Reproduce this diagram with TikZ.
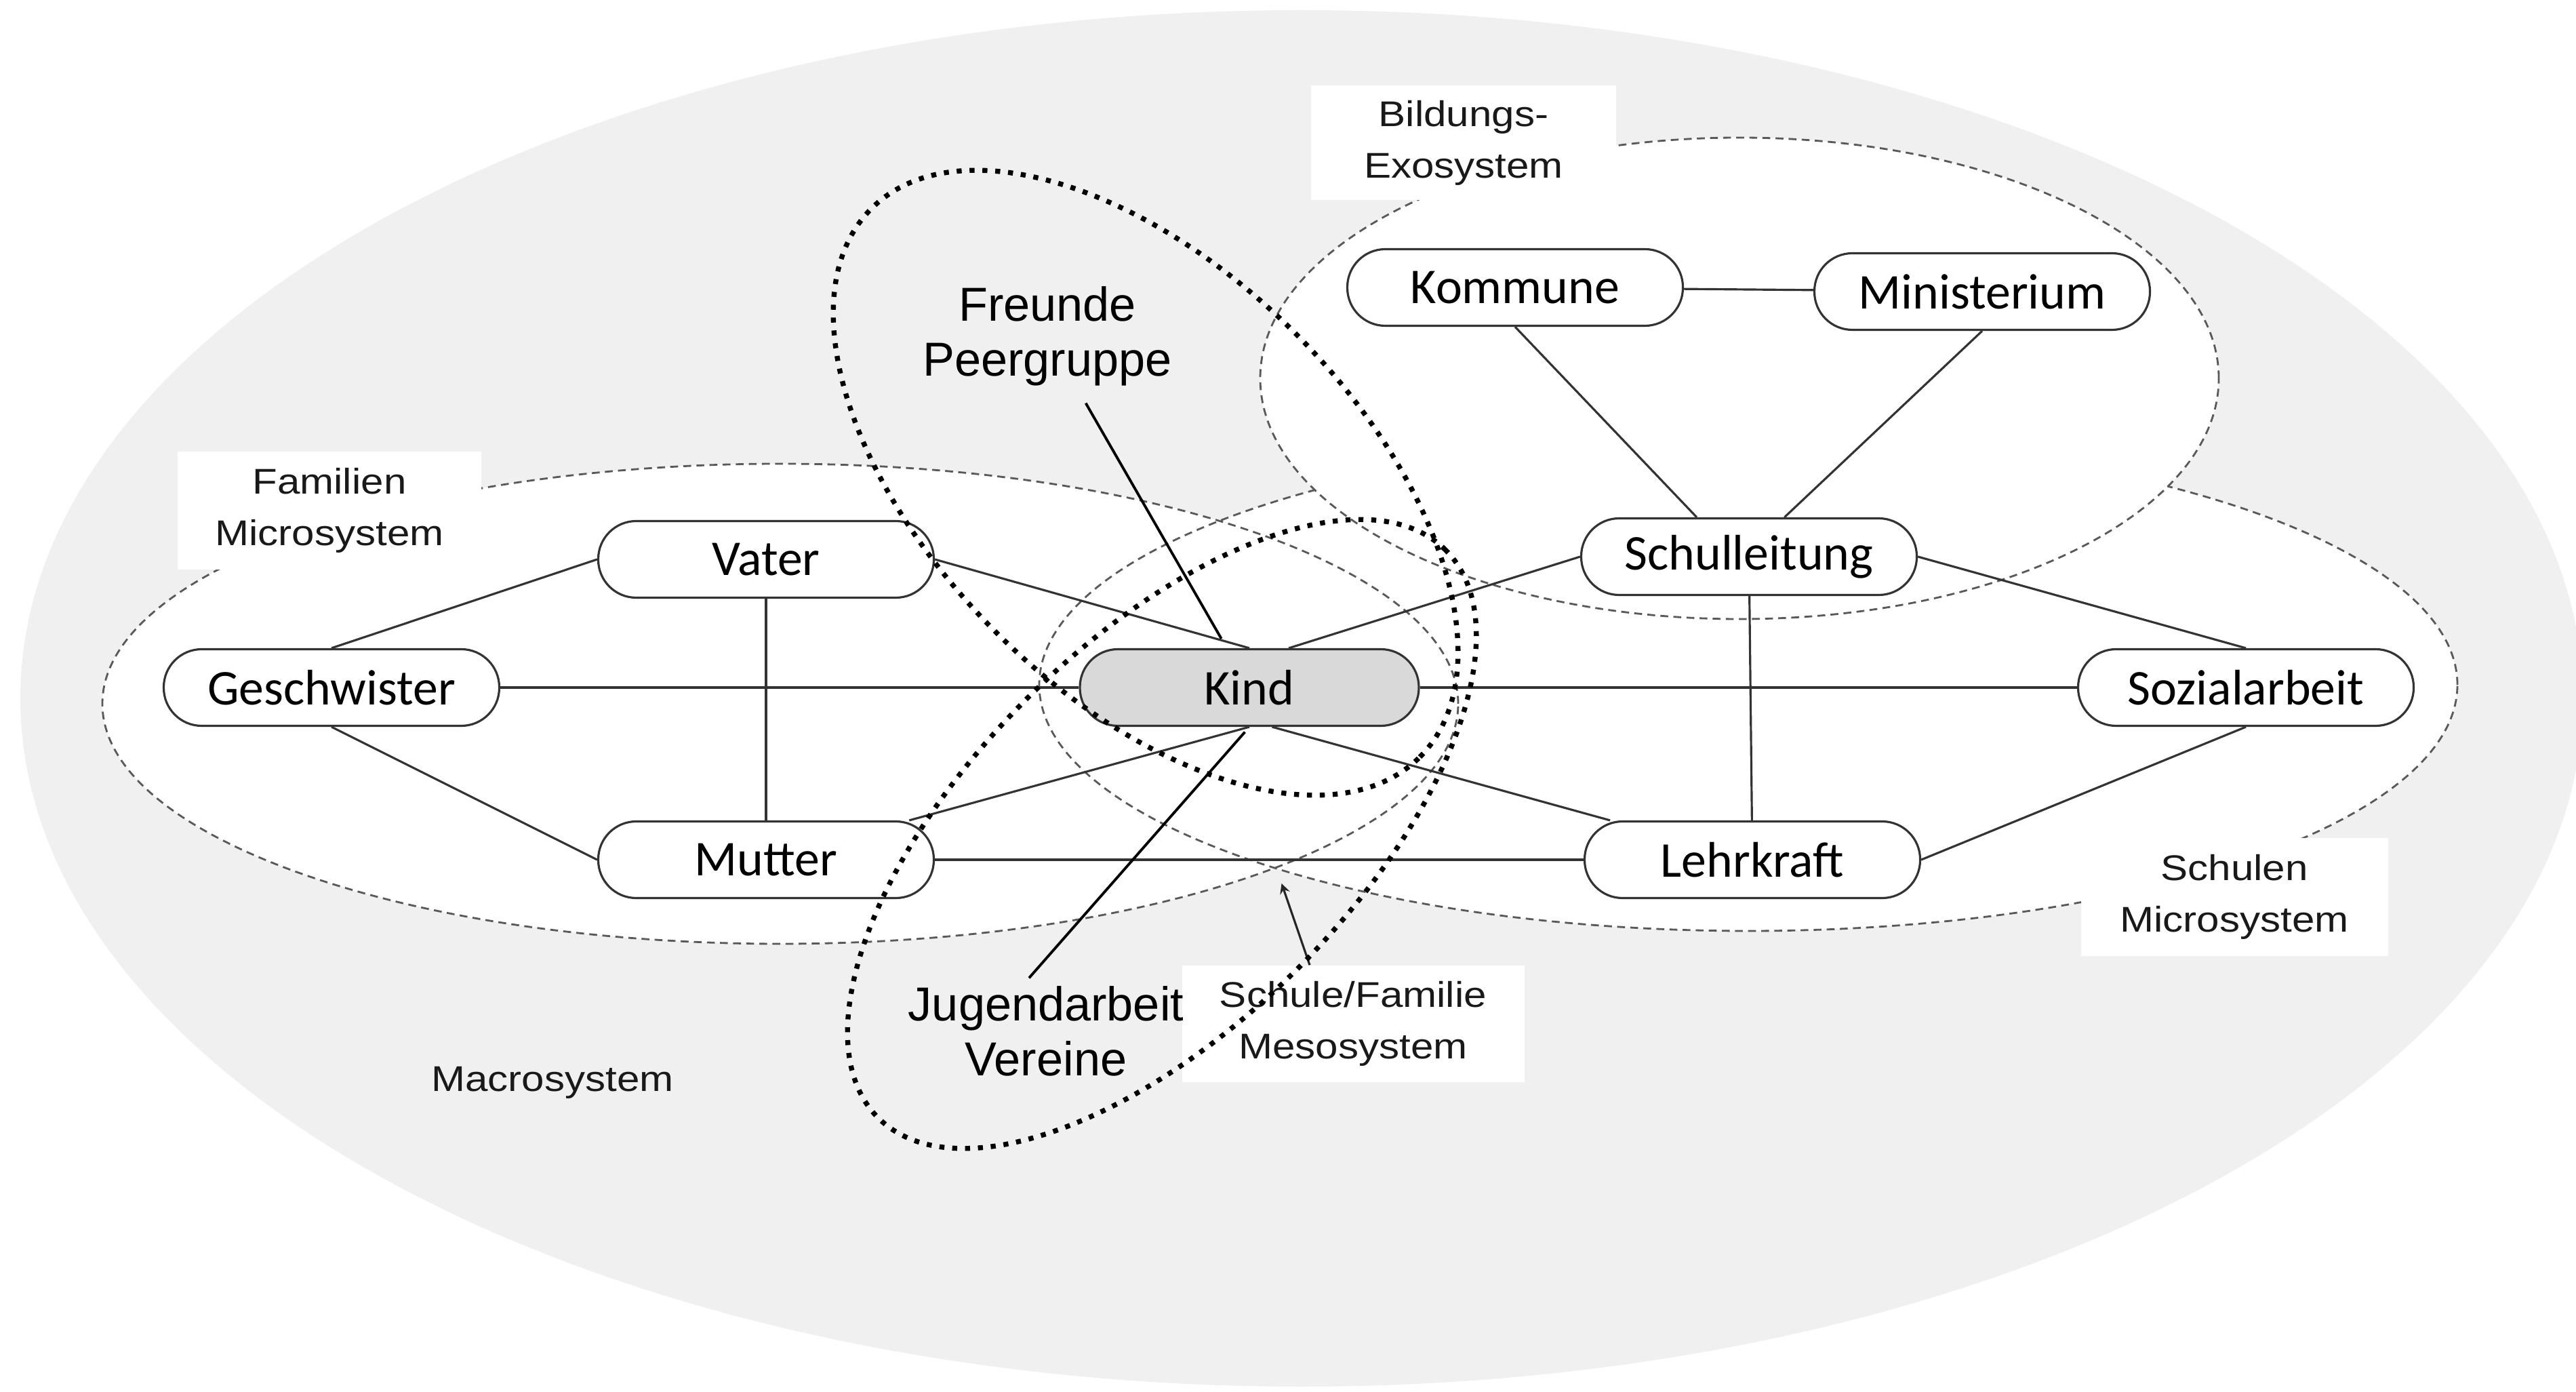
\documentclass[tikz,border=0pt]{standalone}
\usepackage{fontspec}
\setmainfont{Liberation Sans}
\newfontfamily\nodefont{Carlito}
\newfontfamily\labelfont[FakeStretch=1.14]{Liberation Sans}
\usepackage{tikz}
\usetikzlibrary{arrows, positioning}
\definecolor{macrogray}{rgb}{0.94, 0.94, 0.94}
\definecolor{kindgray}{rgb}{0.85, 0.85, 0.85}
\tikzstyle{actor}=[rectangle, rounded corners=0.56cm, minimum width=4.95cm, minimum height=1.13cm, text centered, draw=black!80, line width=0.9pt, fill=white, font=\nodefont\fontsize{21}{25}\selectfont]
\tikzstyle{core}=[actor, fill=kindgray, minimum width=5cm]
\tikzstyle{syslabel}=[rectangle, fill=white, align=center, text=black!90, font=\labelfont\fontsize{15}{21.6}\selectfont]
\tikzstyle{peer}=[align=center, font=\fontsize{20}{23}\selectfont]
\tikzstyle{link}=[draw=black!80, line width=0.9pt]
\tikzstyle{system}=[draw=black!65, line width=0.8pt, dash pattern=on 3.3pt off 2.2pt]
\tikzstyle{cluster}=[draw=black, line width=2.1pt, dash pattern=on 2.1pt off 3.3pt]
\tikzstyle{pointer}=[draw=black!85, line width=0.9pt, ->, >=stealth]

\begin{document}
\begin{tikzpicture}
		\useasboundingbox (0,0) rectangle (38,20.52);
		% systems
		\fill[macrogray] (19.2,10.22) ellipse [x radius=18.9cm, y radius=10.15cm];
		\fill[white] (11.51,10.14) ellipse [x radius=10cm, y radius=3.54cm];
		\fill[white] (25.79,10.42) ellipse [x radius=10.46cm, y radius=3.63cm];
		\draw[system] (11.51,10.14) ellipse [x radius=10cm, y radius=3.54cm];
		\draw[system] (25.79,10.42) ellipse [x radius=10.46cm, y radius=3.63cm];
		\draw[system, fill=white] (25.66,14.94) ellipse [x radius=7.07cm, y radius=3.55cm];

		\node (familie) [syslabel, minimum width=4.48cm, minimum height=1.74cm] at (4.86,12.99) {Familien\\Microsystem};
		\node (bildung) [syslabel, minimum width=4.5cm, minimum height=1.69cm] at (21.59,18.415) {Bildungs-\\Exosystem};
		\node (schulen) [syslabel, minimum width=4.53cm, minimum height=1.74cm] at (32.96,7.29) {Schulen\\Microsystem};
		\node (meso) [syslabel, minimum width=5.05cm, minimum height=1.72cm] at (19.96,5.42) {Schule/Familie\\Mesosystem};
		\node (macro) [syslabel, fill=none] at (8.15,4.55) {Macrosystem};

		% actors
		\node (kind) [core] at (18.43,10.38) {Kind};
		\node (geschwister) [actor] at (4.89,10.38) {Geschwister};
		\node (vater) [actor] at (11.30,12.27) {Vater};
		\node (mutter) [actor] at (11.30,7.84) {Mutter};
		\node (schulleitung) [actor] at (25.80,12.31) {Schulleitung};
		\node (lehrkraft) [actor] at (25.85,7.84) {Lehrkraft};
		\node (sozial) [actor] at (33.13,10.38) {Sozialarbeit};
		\node (kommune) [actor] at (22.35,16.28) {Kommune};
		\node (ministerium) [actor] at (29.24,16.22) {Ministerium};

		\draw [link] (geschwister.north) -- (vater.west);
		\draw [link] (geschwister.south) -- (mutter.west);
		\draw [link] (geschwister) -- (kind);
		\draw [link] (vater) -- (mutter);
		\draw [link] (vater.east) -- (kind.north);
		\draw [link] (kind.south) -- (mutter);
		\draw [link] (mutter) -- (lehrkraft);
		\draw [link] (kind.45) -- (schulleitung.west);
		\draw [link] (kind.-60) -- (lehrkraft);
		\draw [link] (kind) -- (sozial);
		\draw [link] (schulleitung) -- (lehrkraft);
		\draw [link] (schulleitung.east) -- (sozial.north);
		\draw [link] (lehrkraft.east) -- (sozial.south);
		\draw [link] (kommune) -- (ministerium);
		\draw [link] (kommune.south) -- (schulleitung.143);
		\draw [link] (ministerium.south) -- (schulleitung.48);

		\coordinate (meeting) at (18.84,7.68);
		\draw [pointer, shorten >=0.2cm] ([xshift=-0.64cm]meso.north) -- (meeting);

		% peers and clubs
		\draw[cluster, rotate around={-45:(16.90,13.40)}] (16.90,13.40) ellipse [x radius=5.72cm, y radius=3.12cm];
		\draw[cluster, rotate around={45:(17.14,8.22)}] (17.14,8.22) ellipse [x radius=5.92cm, y radius=2.82cm];
		\node (freunde) [peer] at (15.45,15.56) {Freunde\\Peergruppe};
		\node (jugend) [peer] at (15.43,5.31) {Jugendarbeit\\Vereine};
		\draw [line width=1.1pt, shorten <=0.15cm, shorten >=0.16cm] (freunde) -- (kind);
		\draw [line width=1.1pt, shorten >=0.1cm] ([xshift=-0.25cm]jugend.north) -- (kind.south);
	\end{tikzpicture}
\end{document}
